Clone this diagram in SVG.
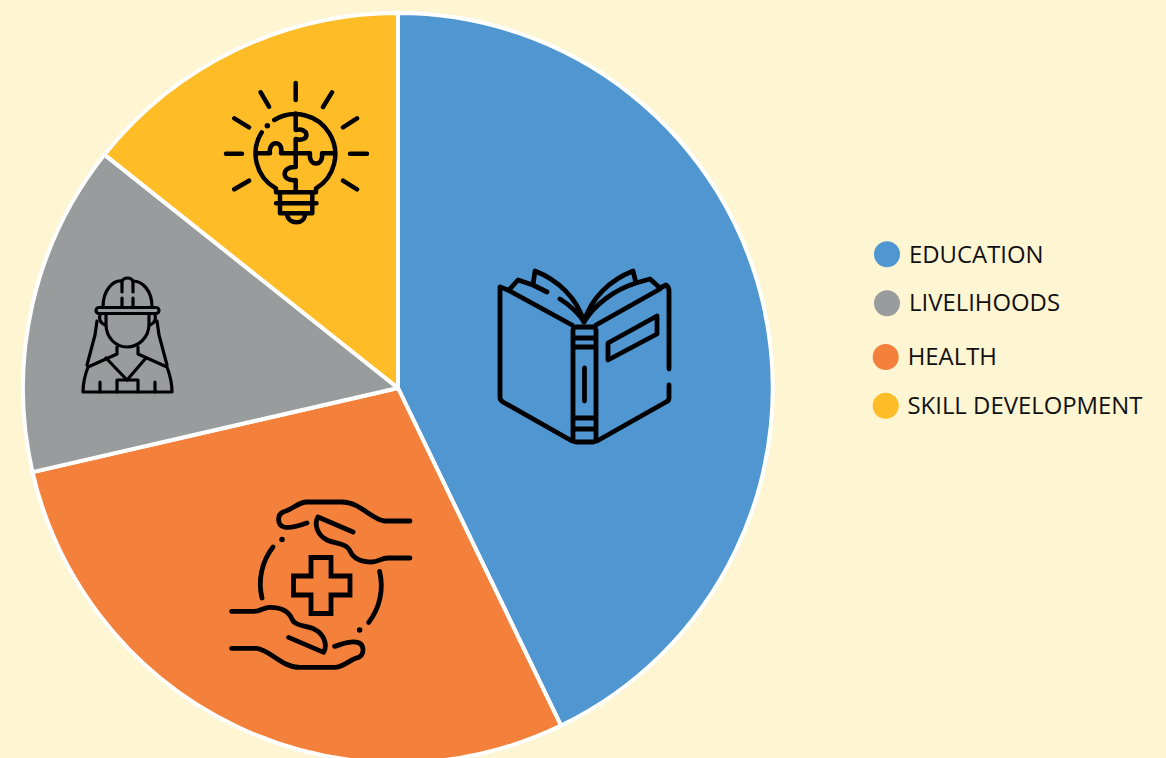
<svg xmlns="http://www.w3.org/2000/svg" xmlns:xlink="http://www.w3.org/1999/xlink" width="1166" height="758" viewBox="0 0 1166 758">
<style>
.slice{stroke:#fff;stroke-width:4;stroke-linejoin:round}
.ic{fill:none;stroke:#000;stroke-linecap:round;stroke-linejoin:round}
.lg{font-family:"Open Sans",sans-serif;font-size:23.900px;fill:#111}
</style>
<rect width="1166" height="758" fill="#fef5d2"/>
<g id="pie">
<path id="slice-education" class="slice" fill="#5097d2" d="M398 388V13A375 375 0 0 1 561 725.600Z"/>
<path id="slice-health" class="slice" fill="#f4813b" d="M398 388L561 725.600A375 375 0 0 1 32.500 472.100Z"/>
<path id="slice-livelihoods" class="slice" fill="#989c9d" d="M398 388L32.500 472.100A375 375 0 0 1 104.500 154.600Z"/>
<path id="slice-skill" class="slice" fill="#febd26" d="M398 388L104.500 154.600A375 375 0 0 1 398 13Z"/>
</g>
<g id="icon-book" class="ic" stroke-width="4.800">
<path d="M508 290L500 287Q500 288 500 291V398Q500 400 503 402L572 441"/>
<path d="M508 290L572 325M660 289L596 325"/>
<path d="M660 288L666 285Q669 287 669 291V369M669 385V398Q669 401 666 402L597 441"/>
<rect x="573" y="327" width="23" height="115" rx="3"/>
<path d="M574 338H595M574 347H595M574 418H595M574 429H595M584.500 368V401"/>
<path d="M608 343L657 316V334L608 360Z"/>
<path d="M509 290L518 280L533 285M547 292L533 285L535 271C558 280 577 298 584 322M560 299C570 305 580 315 584 322"/>
<path d="M660 288L650 279L636 283L633 271C610 280 591 298 584 322M636 283C614 290 594 305 584 322"/>
</g>
<g id="icon-health" class="ic" stroke-width="4.800">
<g id="hand">
<path d="M410 521H385C372 520 360 502 342 502H307C298 502 292 510 283 512C277 515 277 525 284 527C292 529 300 525 307 523"/>
<path d="M353 532L318 517C314 524 317 535 327 540C335 544 347 543 350 551C354 560 363 562 372 562C378 562 381 558 388 558H410"/>
<path d="M273 547A60 60 0 0 0 262 598"/>
<path d="M282 539.500h.01" stroke-width="5.500"/>
</g>
<use xlink:href="#hand" href="#hand" transform="rotate(180 320.800 584.700)"/>
<path d="M311 557.500H331V576H350V595H331V613.500H311V595H293.500V576H311Z" stroke-linejoin="miter"/>
</g>
<g id="icon-livelihoods" class="ic" stroke-width="3.200">
<rect x="96" y="307.500" width="63" height="6" rx="3"/>
<path d="M103 307C103 290 113 280 122 281C124 277 131 277 133 281C142 281 152 290 152 307"/>
<path d="M122 281V292M133 281V292M122 298V306M133 298V306"/>
<path d="M106 315V324C106 338 116 347 127 347C138 347 149 338 149 324V315"/>
<path d="M100 315Q98 322 105 325M155 315Q157 322 150 325"/>
<path d="M97 321L95 335L87 365M157 321L159 335L167 365"/>
<path d="M117 347V354L88 367C85 375 83 385 83 392H172C172 385 170 375 167 367L138 354V347"/>
<path d="M106 358L127 380L146 358M100 382V392M155 382V392"/>
<path d="M117 392V380H138V392"/>
</g>
<g id="icon-skill" class="ic" stroke-width="4.500">
<path d="M295.700 83V100M226 153.700H242M350 153.700H367M260.700 92.300L269 106.700M332 92.300L323 107M234.300 118.300L249 127.300M357 118.300L343 127.300M234.300 189.300L249 180.700M357 189.300L343 180.700"/>
<path d="M274.300 120A40 40 0 1 1 316 188.500V192.300H276V188.500A40 40 0 0 1 261.700 132.300"/>
<path d="M267.300 125.700h.01" stroke-width="5.500"/>
<path d="M295.700 113.500V130C310 127 310 143 295.700 139V167C281 166 281 182 295.700 180V192"/>
<path d="M258 153.300H270C268 140 284 140 281 153.300H310C308 167 324 167 322 153.300H334"/>
<path d="M276 203.300H316.500M280 192.300V213.300H312.300V192.300"/>
<path d="M287 214C288 225 305 225 305 214"/>
</g>
<g id="legend">
<g id="legend-education"><circle cx="887" cy="254.300" r="13" fill="#5097d2"/><text class="lg" x="909" y="262.500">EDUCATION</text></g>
<g id="legend-livelihoods"><circle cx="887" cy="303.300" r="13" fill="#989c9d"/><text class="lg" x="909" y="310.800">LIVELIHOODS</text></g>
<g id="legend-health"><circle cx="885.700" cy="357" r="13" fill="#f4813b"/><text class="lg" x="907.700" y="364.500">HEALTH</text></g>
<g id="legend-skill"><circle cx="885.700" cy="405.700" r="13" fill="#febd26"/><text class="lg" x="907.500" y="413.800">SKILL DEVELOPMENT</text></g>
</g>
</svg>
